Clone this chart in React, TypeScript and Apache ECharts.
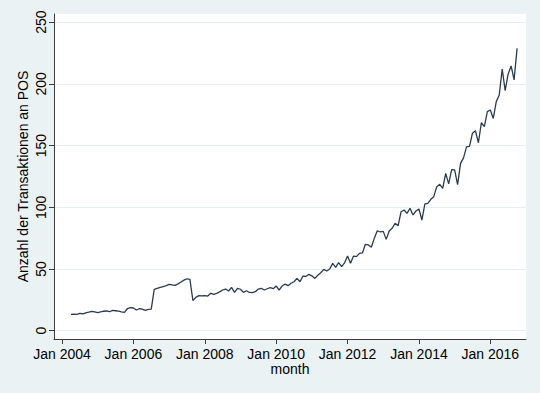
import React, { useEffect, useRef } from 'react';
import * as echarts from 'echarts';

// months counted from Jan 2004 (0 = Jan 2004)
const firstMonth = 3; // Apr 2004
const values: number[] = [
  13.3, 13.5, 13.2, 14.0, 13.6, 14.5, 15.0, 15.7, 15.2, 14.6, // m3-12
  15.3, 15.8, 16.0, 15.4, 16.5, 16.2, 15.8, 15.3, 14.9, 18.0, // m13-22
  18.7, 18.4, 16.8, 17.8, 17.5, 16.5, 17.3, 17.5, 33.5, 34.3, // m23-32
  35.1, 35.8, 36.5, 37.6, 37.2, 36.8, 38.0, 39.5, 41.0, 42.1, // m33-42
  41.6, 24.5, 27.0, 28.4, 28.2, 28.4, 28.1, 30.3, 29.5, 30.3, // m43-52
  31.5, 33.0, 33.8, 32.2, 35.1, 31.1, 34.4, 33.6, 31.1, 32.4, // m53-62
  31.0, 30.8, 31.6, 33.8, 34.4, 33.0, 34.0, 34.9, 34.1, 36.2, // m63-72
  33.0, 36.2, 37.8, 36.5, 38.5, 39.7, 42.4, 39.7, 44.3, 44.0, // m73-82
  45.7, 44.5, 42.4, 45.0, 47.0, 49.7, 48.4, 50.0, 54.6, 51.4, // m83-92
  55.1, 51.9, 55.0, 60.5, 54.6, 60.5, 60.0, 62.7, 63.0, 70.0, // m93-102
  69.5, 67.6, 75.0, 81.0, 80.0, 80.5, 74.0, 80.8, 83.0, 87.0, // m103-112
  85.0, 96.4, 97.8, 95.1, 99.2, 93.8, 97.0, 98.6, 89.7, 102.7, // m113-122
  103.2, 106.5, 108.6, 116.7, 118.6, 115.4, 127.5, 119.0, 130.5, 130.3, // m123-132
  118.3, 135.6, 140.0, 149.0, 149.3, 160.0, 162.0, 152.3, 168.6, 165.4, // m133-142
  177.5, 178.8, 172.0, 185.6, 191.0, 212.0, 194.5, 208.0, 214.5, 203.2, // m143-152
  228.8, // m153
];
const xTickMonths = [0, 24, 48, 72, 96, 120, 144];
const xTickLabels = ['Jan 2004', 'Jan 2006', 'Jan 2008', 'Jan 2010', 'Jan 2012', 'Jan 2014', 'Jan 2016'];
const yTicks = [0, 50, 100, 150, 200, 250];
const yTitle = 'Anzahl der Transaktionen an POS';
const xTitle = 'month';

export default function App() {
  const ref = useRef<HTMLDivElement>(null);
  useEffect(() => {
    const chart = echarts.init(ref.current!, null, { renderer: 'svg' });
    const data = values.map((v, i) => [firstMonth + i, v]);
    const font = '"Liberation Sans", Arial, sans-serif';
    const axisColor = '#3c3c3c';
    chart.setOption({
      animation: false,
      backgroundColor: '#eaf2f3',
      textStyle: { fontFamily: font },
      grid: {
        left: 54, right: 14, top: 14, bottom: 54,
        show: true, backgroundColor: '#ffffff', borderWidth: 0,
      },
      xAxis: {
        type: 'value',
        min: -2.7,
        max: 156,
        name: xTitle,
        nameLocation: 'middle',
        nameGap: 23,
        nameMoveOverlap: false,
        nameTextStyle: { fontSize: 14, color: '#000', fontFamily: font },
        axisLine: { show: true, onZero: false, lineStyle: { color: axisColor, width: 1 } },
        axisTick: { show: true, length: 5, customValues: xTickMonths, lineStyle: { color: axisColor, width: 1 } },
        axisLabel: {
          customValues: xTickMonths,
          formatter: (v: number) => xTickLabels[xTickMonths.indexOf(Math.round(v))] ?? '',
          fontSize: 14, color: '#000', margin: 8, fontFamily: font,
        },
        splitLine: { show: false },
      },
      yAxis: {
        type: 'value',
        min: -6.7,
        max: 256.6,
        name: yTitle,
        nameLocation: 'middle',
        nameGap: 24,
        nameMoveOverlap: false,
        nameTextStyle: { fontSize: 14, color: '#000', fontFamily: font },
        axisLine: { show: true, onZero: false, lineStyle: { color: axisColor, width: 1 } },
        axisTick: { show: true, length: 5, customValues: yTicks, lineStyle: { color: axisColor, width: 1 } },
        axisLabel: {
          customValues: yTicks,
          rotate: 90,
          fontSize: 14, color: '#000', margin: 6, fontFamily: font,
        },
        splitLine: { show: true, lineStyle: { color: '#e6eef0', width: 1 } },
      },
      series: [
        {
          type: 'line',
          data,
          symbol: 'none',
          showSymbol: false,
          lineStyle: { color: '#2a3b52', width: 1.3 },
        },
      ],
    });
    return () => chart.dispose();
  }, []);
  return <div ref={ref} style={{ position: 'fixed', left: 0, top: 0, width: 540, height: 393 }} />;
}
